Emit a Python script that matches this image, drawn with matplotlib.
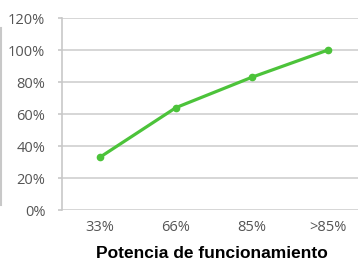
import matplotlib
matplotlib.use("Agg")
import matplotlib.pyplot as plt
from matplotlib.ticker import FuncFormatter
from matplotlib.lines import Line2D

categories = ["33%", "66%", "85%", ">85%"]
values = [0.33, 0.64, 0.83, 1.00]
yticks = [0, 0.2, 0.4, 0.6, 0.8, 1.0, 1.2]
xlabel = "Potencia de funcionamiento"

fig = plt.figure(figsize=(3.58, 2.64), dpi=100)
ax = fig.add_axes([62/358, 1-210/264, (366-62)/358, (210-18)/264])

for y in yticks:
    ax.axhline(y, color="#d0d0d0", lw=1.2, zorder=0)

x = list(range(len(categories)))
ax.plot(x, values, color="#4cc33a", lw=2.3, marker="o", ms=4.5, zorder=3)

ax.set_xlim(-0.5, 3.5)
ax.set_ylim(0, 1.2)
ax.set_yticks(yticks)
ax.yaxis.set_major_formatter(FuncFormatter(lambda v, p: f"{v*100:.0f}%"))
ax.set_xticks(x)
ax.set_xticklabels(categories)

for s in ["top", "right", "bottom"]:
    ax.spines[s].set_visible(False)
ax.spines["left"].set_color("#c8c8c8")
ax.spines["left"].set_linewidth(1.2)

ax.tick_params(axis="y", length=3, color="#c8c8c8", width=1.2, pad=9,
               labelsize=10.5, labelcolor="#555555")
ax.tick_params(axis="x", length=0, pad=7, labelsize=10.5, labelcolor="#555555")
for lab in ax.get_xticklabels() + ax.get_yticklabels():
    lab.set_family("Open Sans")

fig.add_artist(Line2D([1/358, 1/358], [1-205/264, 1-28/264],
                      transform=fig.transFigure, color="#c8c8c8", lw=1.5))

fig.text(212/358, 1-254/264, xlabel, ha="center", va="center",
         fontsize=12.5, fontweight="bold", family="Liberation Sans", color="black")

fig.savefig("out.png", dpi=100)
